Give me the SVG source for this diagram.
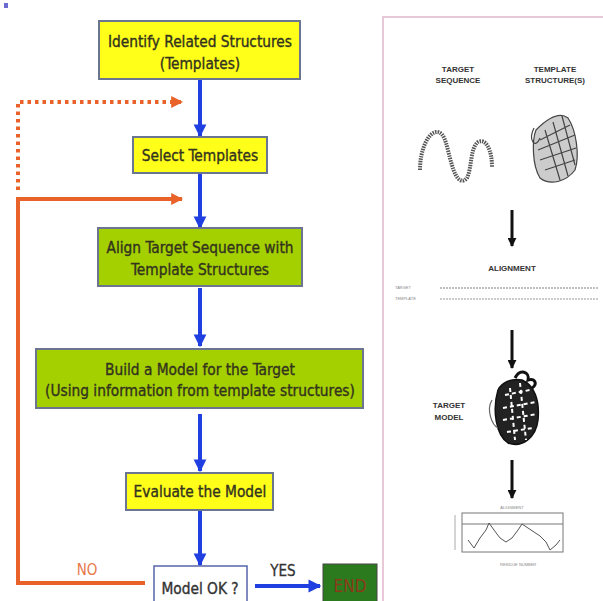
<svg xmlns="http://www.w3.org/2000/svg" width="603" height="601" viewBox="0 0 603 601">
<defs>
<marker id="blueHead" viewBox="0 0 10 10" refX="9" refY="5" markerWidth="3.2" markerHeight="3.4" orient="auto" markerUnits="strokeWidth">
<path d="M0,0 L10,5 L0,10 z" fill="#1f3fe0"/>
</marker>
<marker id="orangeHead" viewBox="0 0 10 10" refX="9" refY="5" markerWidth="3" markerHeight="3.4" orient="auto" markerUnits="strokeWidth">
<path d="M0,0 L10,5 L0,10 z" fill="#e8622a"/>
</marker>
<marker id="blackHead" viewBox="0 0 10 10" refX="9" refY="5" markerWidth="3" markerHeight="3" orient="auto" markerUnits="strokeWidth">
<path d="M0,0 L10,5 L0,10 z" fill="#111"/>
</marker>
</defs>
<style>
.box{stroke:#6b7590;stroke-width:2}
.yellow{fill:#ffff1a}
.green{fill:#a4d000}
.lbl{font-family:"DejaVu Sans Condensed","DejaVu Sans",sans-serif;font-size:15.3px;fill:#33331f;stroke:#33331f;stroke-width:0.35;text-anchor:middle}
.flow{stroke:#1f3fe0;stroke-width:4;fill:none;marker-end:url(#blueHead)}
.orange{stroke:#e8622a;stroke-width:4;fill:none}
.small{font-family:"Liberation Sans",Arial,sans-serif;font-size:8px;font-weight:bold;fill:#333;text-anchor:middle}
.tiny{font-family:"Liberation Sans",Arial,sans-serif;font-size:4px;fill:#888}
</style>
<rect width="603" height="601" fill="#ffffff"/>
<rect x="4" y="3" width="4" height="5" fill="#6b6bd0"/>

<g id="connectors">
<line class="flow" x1="200" y1="79" x2="200" y2="136"/>
<line class="flow" x1="200" y1="173" x2="200" y2="228"/>
<line class="flow" x1="200" y1="288" x2="200" y2="346"/>
<line class="flow" x1="200" y1="414" x2="200" y2="471"/>
<line class="flow" x1="200" y1="510" x2="200" y2="565"/>
<line class="flow" x1="255" y1="586" x2="320" y2="586"/>
<polyline class="orange" stroke-dasharray="3.5,4" points="18,190 18,102 182,102" marker-end="url(#orangeHead)"/>
<polyline class="orange" points="18,199 182,199" marker-end="url(#orangeHead)"/>
<polyline class="orange" points="145,583 18,583 18,197"/>
<text x="87" y="575" font-family="DejaVu Sans Condensed, DejaVu Sans, sans-serif" font-size="15" fill="#e8784a" text-anchor="middle">NO</text>
<text x="283" y="576" font-family="DejaVu Sans Condensed, DejaVu Sans, sans-serif" font-size="15" fill="#333" stroke="#333" stroke-width="0.3" text-anchor="middle">YES</text>
</g>

<g id="identify">
<rect class="box yellow" x="99" y="21" width="201" height="58"/>
<text class="lbl" x="200" y="47">Identify Related Structures</text>
<text class="lbl" x="200" y="69">(Templates)</text>
</g>
<g id="select">
<rect class="box yellow" x="133" y="137" width="134" height="36"/>
<text class="lbl" x="200" y="161">Select Templates</text>
</g>
<g id="align">
<rect class="box green" x="98" y="228" width="204" height="58"/>
<text class="lbl" x="200" y="253">Align Target Sequence with</text>
<text class="lbl" x="200" y="275">Template Structures</text>
</g>
<g id="build">
<rect class="box green" x="36" y="349" width="327" height="59"/>
<text class="lbl" x="200" y="375">Build a Model for the Target</text>
<text class="lbl" x="200" y="396">(Using information from template structures)</text>
</g>
<g id="evaluate">
<rect class="box yellow" x="126" y="473" width="147" height="37"/>
<text class="lbl" x="200" y="497">Evaluate the Model</text>
</g>
<g id="modelok">
<rect x="154" y="566" width="93" height="40" fill="#ffffff" stroke="#5566aa" stroke-width="1.5"/>
<text class="lbl" x="200" y="594" style="fill:#333;stroke:#333">Model OK ?</text>
</g>
<g id="end">
<rect x="323" y="564" width="54" height="40" fill="#2b7a1e" stroke="#444" stroke-width="1"/>
<text class="lbl" x="350" y="592" style="fill:#8a3a1a;stroke:none;font-size:17px">END</text>
</g>

<g id="panel">
<path d="M383,601 L383,17 L603,17" fill="none" stroke="#e9c8d8" stroke-width="2"/>
<text class="small" x="458" y="72">TARGET</text>
<text class="small" x="458" y="83">SEQUENCE</text>
<text class="small" x="555" y="72">TEMPLATE</text>
<text class="small" x="555" y="83">STRUCTURE(S)</text>
<path d="M420,170 C420,150 428,132 437,132 C446,132 447,150 452,165 C456,180 462,184 467,178 C472,168 470,148 478,142 C486,138 492,150 492,167" fill="none" stroke="#555" stroke-width="4" stroke-dasharray="1.5,1"/>
<g fill="none" stroke="#444" stroke-width="1.2">
<path d="M536,130 C532,140 532,165 540,178 C550,186 566,182 575,170 C580,155 576,130 568,118 C560,112 548,118 536,130 z" fill="#ccc"/>
<path d="M540,140 L570,125 M538,150 L575,135 M540,160 L576,148 M545,170 L575,160 M545,130 L560,180 M553,122 L568,176 M562,116 L575,165"/>
<path d="M534,128 C528,140 535,150 540,138"/>
</g>
<line x1="512" y1="210" x2="512" y2="246" stroke="#111" stroke-width="3" marker-end="url(#blackHead)"/>
<text class="small" x="512" y="271">ALIGNMENT</text>
<text class="tiny" x="395" y="289">TARGET</text>
<text class="tiny" x="395" y="300">TEMPLATE</text>
<line x1="440" y1="288" x2="598" y2="288" stroke="#aaa" stroke-width="1.5" stroke-dasharray="2,1"/>
<line x1="440" y1="299" x2="598" y2="299" stroke="#bbb" stroke-width="1.5" stroke-dasharray="2,1"/>
<line x1="512" y1="330" x2="512" y2="368" stroke="#111" stroke-width="3" marker-end="url(#blackHead)"/>
<text class="small" x="449" y="408">TARGET</text>
<text class="small" x="449" y="420">MODEL</text>
<g stroke="#111" fill="none">
<path d="M498,390 C492,410 496,435 508,443 C522,448 536,438 538,420 C540,400 534,385 522,380 C512,378 502,382 498,390 z" fill="#222" stroke-width="1.5"/>
<path d="M505,395 L530,390 M503,408 L536,402 M503,420 L537,414 M507,432 L533,428 M510,388 L515,440 M520,383 L526,440" stroke="#fff" stroke-width="2" stroke-dasharray="4,3"/>
<path d="M515,378 C520,368 530,372 528,380 C535,378 538,384 532,388" stroke-width="3"/>
<path d="M492,400 C486,410 492,425 498,428" stroke="#666" stroke-width="1.2"/>
</g>
<line x1="512" y1="460" x2="512" y2="498" stroke="#111" stroke-width="3" marker-end="url(#blackHead)"/>
<text class="tiny" x="512" y="509" text-anchor="middle">ALIGNMENT</text>
<rect x="462" y="513" width="101" height="39" fill="none" stroke="#777" stroke-width="1"/>
<line x1="462" y1="524" x2="563" y2="524" stroke="#777" stroke-width="1"/>
<path d="M468,540 L474,548 L480,538 L486,530 L489,523 L494,530 L500,538 L506,542 L512,538 L518,530 L522,524 L528,528 L534,532 L540,536 L546,542 L550,550 L556,545 L560,540" fill="none" stroke="#555" stroke-width="1"/>
<line x1="455" y1="515" x2="455" y2="550" stroke="#aaa" stroke-width="1"/>
<text class="tiny" x="500" y="566">RESIDUE NUMBER</text>
</g>
</svg>
